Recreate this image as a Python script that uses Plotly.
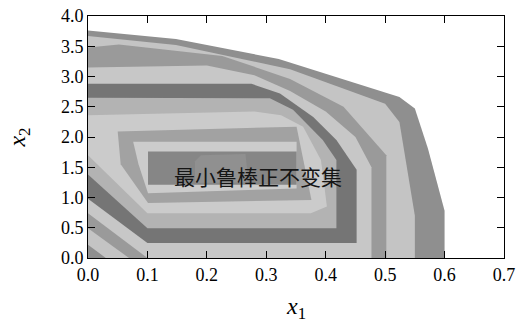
import plotly.graph_objects as go

# Nested region boundaries (outer -> inner), data coordinates (x1, x2)
b1_x = [0, 0.148, 0.321, 0.524, 0.55, 0.572, 0.6, 0.6, 0]
b1_y = [3.76, 3.62, 3.29, 2.66, 2.47, 1.81, 0.78, 0, 0]
b2_x = [0, 0.148, 0.34, 0.50, 0.524, 0.55, 0.55, 0.03, 0]
b2_y = [3.67, 3.52, 3.12, 2.55, 2.25, 0.7, 0, 0, 0.22]
b3_x = [0, 0.052, 0.226, 0.34, 0.43, 0.502, 0.502, 0.069, 0]
b3_y = [3.48, 3.53, 3.34, 2.96, 2.5, 1.7, 0, 0, 0.49]
b4_x = [0, 0.2, 0.28, 0.34, 0.40, 0.45, 0.477, 0.477, 0.1, 0]
b4_y = [3.15, 3.18, 3.02, 2.76, 2.42, 2.0, 1.5, 0, 0, 0.74]
b5_x = [0, 0.275, 0.323, 0.379, 0.418, 0.452, 0.452, 0.1, 0]
b5_y = [2.88, 2.88, 2.72, 2.33, 1.95, 1.46, 0.25, 0.25, 0.98]
b6_x = [0, 0.306, 0.345, 0.395, 0.418, 0.418, 0.1, 0]
b6_y = [2.65, 2.64, 2.45, 1.95, 1.62, 0.49, 0.49, 1.38]
b7_x = [0, 0.28, 0.325, 0.362, 0.392, 0.402, 0.375, 0.1, 0]
b7_y = [2.36, 2.42, 2.36, 2.17, 1.62, 0.85, 0.74, 0.74, 1.7]
b8_x = [0.05, 0.351, 0.376, 0.101, 0.055]
b8_y = [2.09, 2.17, 0.96, 0.91, 1.55]
b9_x = [0.076, 0.351, 0.351, 0.101, 0.085]
b9_y = [1.92, 1.92, 1.15, 1.07, 1.55]
b10_x = [0.101, 0.351, 0.351, 0.101]
b10_y = [1.76, 1.76, 1.21, 1.21]
b11_x = [0.19, 0.265, 0.27, 0.18, 0.18]
b11_y = [1.70, 1.72, 1.25, 1.24, 1.6]

regions_x = [b1_x, b2_x, b3_x, b4_x, b5_x, b6_x, b7_x, b8_x, b9_x, b10_x, b11_x]
regions_y = [b1_y, b2_y, b3_y, b4_y, b5_y, b6_y, b7_y, b8_y, b9_y, b10_y, b11_y]

label_text = "最小鲁棒正不变集"
label_x = 0.2856
label_y = 1.357

x_ticks = [0.0, 0.1, 0.2, 0.3, 0.4, 0.5, 0.6, 0.7]
y_ticks = [0.0, 0.5, 1.0, 1.5, 2.0, 2.5, 3.0, 3.5, 4.0]

shades = ["#8f8f8f", "#c4c4c4", "#9a9a9a", "#c7c7c7", "#757575", "#b3b3b3",
          "#cbcbcb", "#a2a2a2", "#cccccc", "#868686", "#909090"]

SERIF = "Liberation Serif, Times New Roman, serif"

fig = go.Figure()
for xs, ys, c in zip(regions_x, regions_y, shades):
    fig.add_trace(go.Scatter(x=xs, y=ys, fill="toself", fillcolor=c, mode="lines",
                             line=dict(width=0, color=c), hoverinfo="skip", showlegend=False))

fig.add_annotation(x=label_x, y=label_y, text=label_text, showarrow=False,
                   font=dict(family="Noto Sans CJK SC", size=21, color="#151515"))

# x-axis title as a paper-anchored annotation (axis title would be clipped by the margin)
fig.add_annotation(x=0.5, y=-0.205, xref="paper", yref="paper", showarrow=False,
                   text="<i>x</i><sub>1</sub>", yanchor="middle",
                   font=dict(family=SERIF, size=24, color="black"))

axis_common = dict(showline=True, linecolor="black", linewidth=1, mirror="ticks",
                   ticks="inside", ticklen=7, tickcolor="black", tickwidth=1,
                   showgrid=False, zeroline=False, automargin=False,
                   tickfont=dict(family=SERIF, size=18, color="black"))
fig.update_xaxes(range=[0, 0.7], tickvals=x_ticks, tickformat=".1f", **axis_common)
fig.update_yaxes(range=[0, 4.0], tickvals=y_ticks, tickformat=".1f",
                 title=dict(text="<i>x</i><sub>2</sub>", standoff=28,
                            font=dict(family=SERIF, size=24, color="black")),
                 **axis_common)
fig.update_layout(width=519, height=322, margin=dict(l=88, r=15, t=16, b=64),
                  font=dict(family=SERIF),
                  plot_bgcolor="white", paper_bgcolor="white")
fig.write_html("out.html")
